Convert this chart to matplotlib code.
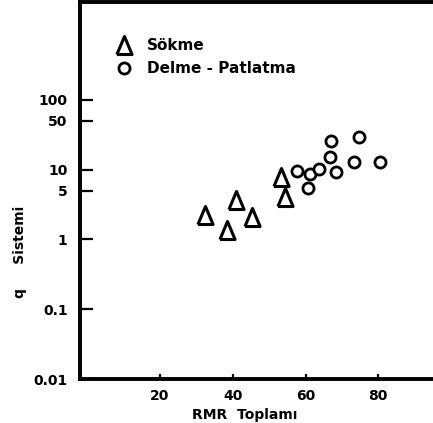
import numpy as np
import matplotlib.pyplot as plt

# Values (x: RMR, y: Q system, log scale)
sokme_x = [32.4, 38.5, 40.9, 45.3, 53.3, 54.4]
sokme_y = [2.28, 1.35, 3.73, 2.13, 7.9, 4.1]

delme_x = [57.6, 61.1, 60.8, 63.8, 67.0, 66.8, 68.5, 74.6, 73.2, 80.6]
delme_y = [9.6, 8.6, 5.4, 10.4, 26.2, 15.3, 9.4, 29.6, 13.0, 12.9]

ytick_vals = [0.01, 0.1, 1, 5, 10, 50, 100]
ytick_labels = ['0.01', '0.1', '1', '5', '10', '50', '100']
xtick_vals = [20, 40, 60, 80]

W, H = 433, 423
fig = plt.figure(figsize=(W / 100, H / 100), dpi=100)

# axes runs off the right edge, like the cropped scan
ax = fig.add_axes([80 / W, (H - 379) / H, 371 / W, 377 / H])
ax.set_yscale('log')
ax.set_xlim(-2, 100)
ax.set_ylim(0.01, 2540)

# closed open triangle, a bit taller than wide
tri = [(-0.42, -0.5), (0.42, -0.5), (0, 0.5), (-0.42, -0.5)]
ax.plot(sokme_x, sokme_y, linestyle='none', marker=tri, markersize=13,
        markerfacecolor='white', markeredgecolor='black', markeredgewidth=2.2,
        label='Sökme')
ax.plot(delme_x, delme_y, linestyle='none', marker='o', markersize=8,
        markerfacecolor='white', markeredgecolor='black', markeredgewidth=2.0,
        label='Delme - Patlatma')

for side in ['left', 'bottom', 'top']:
    ax.spines[side].set_linewidth(2.8)
ax.spines['right'].set_visible(False)

ax.yaxis.set_minor_locator(plt.NullLocator())
ax.set_yticks(ytick_vals)
ax.set_yticklabels(ytick_labels)
ax.set_xticks(xtick_vals)
ax.set_xticklabels([str(v) for v in xtick_vals])
ax.tick_params(axis='y', direction='in', length=9, width=1.6, pad=9,
               labelsize=10)
ax.tick_params(axis='x', direction='in', length=3.5, width=1.6, pad=7,
               labelsize=10)
for lab in ax.get_xticklabels() + ax.get_yticklabels():
    lab.set_fontweight('bold')

leg = ax.legend(loc='upper left', bbox_to_anchor=(116 / W, 1 - 38 / H),
                bbox_transform=fig.transFigure, frameon=False,
                handlelength=1.0, handletextpad=1.0, labelspacing=0.55,
                borderpad=0, borderaxespad=0,
                prop={'size': 11, 'weight': 'bold'})

fig.text(20 / W, 1 - 252 / H, 'q     Sistemi', rotation=90, ha='center',
         va='center', fontsize=10, fontweight='bold')
fig.text(245 / W, 1.5 / H, 'RMR  Toplamı', ha='center', va='bottom',
         fontsize=10, fontweight='bold')

fig.savefig('out.png', dpi=100)
